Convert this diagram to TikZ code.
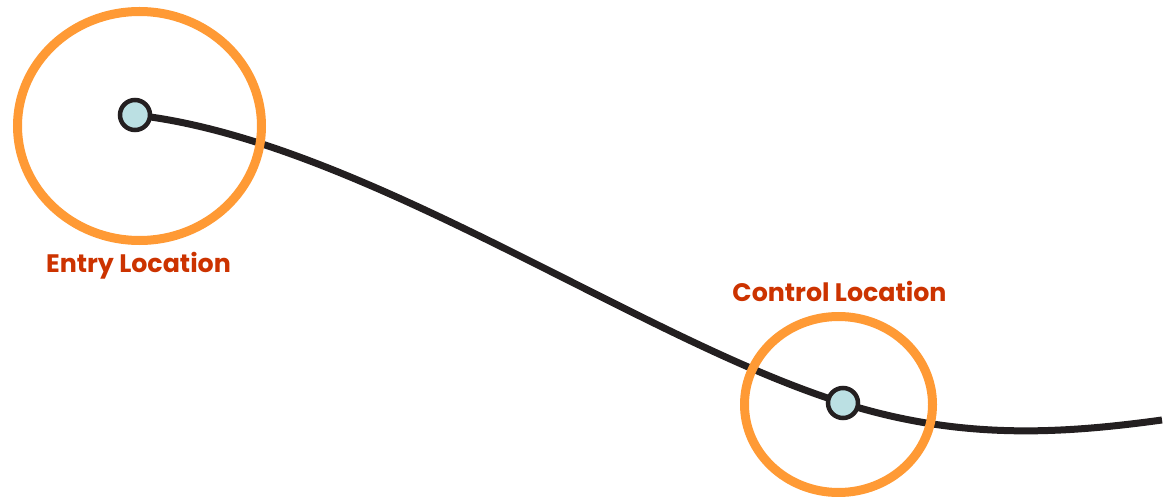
\documentclass[tikz,border=0pt]{standalone}
\usepackage{fontspec}
\setmainfont{Poppins}
\usetikzlibrary{shapes.geometric}
\definecolor{ringorange}{HTML}{FF9A35}
\definecolor{dotfill}{HTML}{BBE0E3}
\definecolor{inkblack}{HTML}{231F20}
\definecolor{labelred}{HTML}{CC3300}
\tikzset{
  x=1pt, y=-1pt,
  ring/.style={ellipse, draw=ringorange, line width=9pt, inner sep=0pt},
  waypoint/.style={circle, draw=inkblack, fill=dotfill, line width=4.5pt, minimum size=30pt, inner sep=0pt},
  pathline/.style={draw=inkblack, line width=7pt},
  caption/.style={text=labelred, font=\fontsize{25.3}{30}\selectfont\bfseries, inner sep=0pt}
}
\begin{document}
\begin{tikzpicture}
\useasboundingbox (0,0) rectangle (1167,497);
\coordinate (entryc) at (135,115);
\coordinate (controlc) at (843,403);
\coordinate (tail) at (1162,420);
\draw[pathline] (entryc) .. controls (360,140) and (640,340) .. (controlc)
  .. controls (960,440) and (1060,434) .. (tail);
\node[ring, minimum width=244pt, minimum height=229pt] (entryring) at (139.5,126) {};
\node[ring, minimum width=188pt, minimum height=176pt] (controlring) at (838.5,404.5) {};
\node[waypoint] (entry) at (entryc) {};
\node[waypoint] (control) at (controlc) {};
\node[caption] (entrylabel) at (138.5,266) {Entry Location};
\node[caption] (controllabel) at (839.5,291.5) {Control Location};
\end{tikzpicture}
\end{document}
